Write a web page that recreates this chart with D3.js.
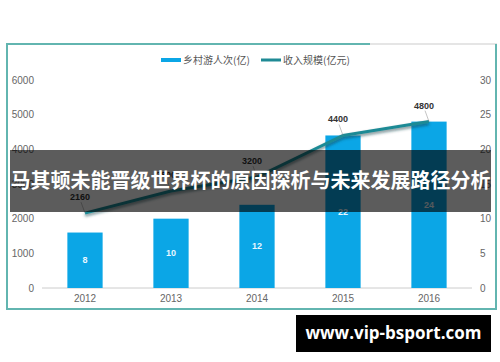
<!DOCTYPE html>
<html>
<head>
<meta charset="utf-8">
<script src="https://cdn.jsdelivr.net/npm/d3@7"></script>
<style>
body { margin: 0; background: #fff; }
svg { display: block; font-family: "Liberation Sans", Arial, sans-serif; }
</style>
</head>
<body>
<div id="chart"></div>
<script>
// chart data
var years = ['2012', '2013', '2014', '2015', '2016'];
var visitors = [8, 10, 12, 22, 24];          // 乡村游人次(亿), right axis
var revenue = [2160, 2800, 3200, 4400, 4800]; // 收入规模(亿元), left axis
var leftTicks = [0, 1000, 2000, 3000, 4000, 5000, 6000];
var rightTicks = [0, 5, 10, 15, 20, 25, 30];
var seriesNames = ['乡村游人次(亿)', '收入规模(亿元)'];
var bannerText = '马其顿未能晋级世界杯的原因探析与未来发展路径分析';
var watermark = 'www.vip-bsport.com';

var width = 500, height = 362;
var barColor = '#0ba6e6', lineColor = '#1f8a95', frameColor = '#62b5b0';

var svg = d3.select('#chart').append('svg')
    .attr('width', width)
    .attr('height', height);

var defs = svg.append('defs');
var shadow = defs.append('filter').attr('id', 'shadow')
    .attr('x', '-10%').attr('y', '-50%').attr('width', '120%').attr('height', '200%');
shadow.append('feDropShadow')
    .attr('dx', 0).attr('dy', 2).attr('stdDeviation', 1.5)
    .attr('flood-color', '#0b3d44').attr('flood-opacity', 0.6);

// frame
svg.append('line').attr('x1', 7).attr('x2', 497).attr('y1', 44).attr('y2', 44)
    .attr('stroke', '#dcdcdc').attr('stroke-width', 1.5);
svg.append('path')
    .attr('d', 'M370,44 H7 V309 H496 V44')
    .attr('fill', 'none')
    .attr('stroke', frameColor)
    .attr('stroke-width', 2);

var x = d3.scaleBand().domain(years).range([42, 472])
    .paddingInner(0.59).paddingOuter(0.295);
var yLeft = d3.scaleLinear().domain([0, 6000]).range([288, 80]);
var yRight = d3.scaleLinear().domain([0, 30]).range([288, 80]);

// axes
var gl = svg.append('g').attr('transform', 'translate(42,0)')
    .call(d3.axisLeft(yLeft).tickValues(leftTicks).tickFormat(d3.format('d'))
        .tickSize(0).tickPadding(8));
var gr = svg.append('g').attr('transform', 'translate(472,0)')
    .call(d3.axisRight(yRight).tickValues(rightTicks).tickSize(0).tickPadding(8));
var gb = svg.append('g').attr('transform', 'translate(0,288)')
    .call(d3.axisBottom(x).tickSize(0).tickPadding(7));

[gl, gr, gb].forEach(function(g) {
    g.select('.domain').remove();
    g.selectAll('text').attr('fill', '#666').style('font-size', '10px')
        .style('font-family', '"Liberation Sans", Arial, sans-serif');
});

svg.append('line').attr('x1', 42).attr('x2', 472).attr('y1', 288).attr('y2', 288)
    .attr('stroke', '#ccc');

// bars
svg.selectAll('rect.bar')
    .data(visitors)
    .enter()
    .append('rect')
    .attr('class', 'bar')
    .attr('x', function(d, i) { return x(years[i]); })
    .attr('y', function(d) { return yRight(d); })
    .attr('width', x.bandwidth())
    .attr('height', function(d) { return yRight(0) - yRight(d); })
    .attr('fill', barColor);

svg.selectAll('text.barlabel')
    .data(visitors)
    .enter()
    .append('text')
    .attr('class', 'barlabel')
    .attr('x', function(d, i) { return x(years[i]) + x.bandwidth() / 2; })
    .attr('y', function(d) { return (yRight(d) + yRight(0)) / 2 + 3; })
    .attr('text-anchor', 'middle')
    .attr('fill', '#e8f7ff')
    .style('font-size', '9px')
    .style('font-weight', 'bold')
    .text(function(d) { return d; });

// line
var line = d3.line()
    .x(function(d, i) { return x(years[i]) + x.bandwidth() / 2; })
    .y(function(d) { return yLeft(d); });

svg.append('path')
    .datum(revenue)
    .attr('d', line)
    .attr('fill', 'none')
    .attr('stroke', lineColor)
    .attr('stroke-width', 3)
    .attr('filter', 'url(#shadow)');

svg.selectAll('line.leader')
    .data(revenue)
    .enter()
    .append('line')
    .attr('class', 'leader')
    .attr('x1', function(d, i) { return x(years[i]) + x.bandwidth() / 2 - 4; })
    .attr('x2', function(d, i) { return x(years[i]) + x.bandwidth() / 2; })
    .attr('y1', function(d) { return yLeft(d) - 11; })
    .attr('y2', function(d) { return yLeft(d); })
    .attr('stroke', '#888')
    .attr('stroke-width', 0.5);

svg.selectAll('text.linelabel')
    .data(revenue)
    .enter()
    .append('text')
    .attr('class', 'linelabel')
    .attr('x', function(d, i) { return x(years[i]) + x.bandwidth() / 2 - 5; })
    .attr('y', function(d) { return yLeft(d) - 13; })
    .attr('text-anchor', 'middle')
    .attr('fill', '#333')
    .style('font-size', '9px')
    .style('font-weight', 'bold')
    .text(function(d) { return d; });

// legend
var legend = svg.append('g').style('font-family', '"Noto Sans CJK SC", sans-serif');
var legendX = [161, 261];
var legendColors = [barColor, lineColor];
seriesNames.forEach(function(name, i) {
    legend.append('line')
        .attr('x1', legendX[i]).attr('x2', legendX[i] + 20)
        .attr('y1', 60).attr('y2', 60)
        .attr('stroke', legendColors[i]).attr('stroke-width', i === 0 ? 4 : 3);
    legend.append('text')
        .attr('x', legendX[i] + 22).attr('y', 63.5)
        .attr('fill', '#555')
        .style('font-size', '10px')
        .text(name);
});

// banner overlay
svg.append('rect')
    .attr('x', 10).attr('y', 150).attr('width', 481).attr('height', 62)
    .attr('fill', '#000').attr('fill-opacity', 0.64);
svg.append('text')
    .attr('x', 250.5).attr('y', 188)
    .attr('text-anchor', 'middle')
    .attr('fill', '#fff')
    .style('font-family', '"Noto Sans CJK SC", sans-serif')
    .style('font-size', '20px')
    .style('font-weight', 'bold')
    .text(bannerText);

// watermark
svg.append('rect')
    .attr('x', 296).attr('y', 315).attr('width', 195).attr('height', 37)
    .attr('fill', '#000');
svg.append('text')
    .attr('x', 393.5).attr('y', 339)
    .attr('text-anchor', 'middle')
    .attr('fill', '#fff')
    .style('font-family', '"Open Sans", sans-serif')
    .style('font-size', '17px')
    .style('font-weight', 'bold')
    .text(watermark);
</script>
</body>
</html>
